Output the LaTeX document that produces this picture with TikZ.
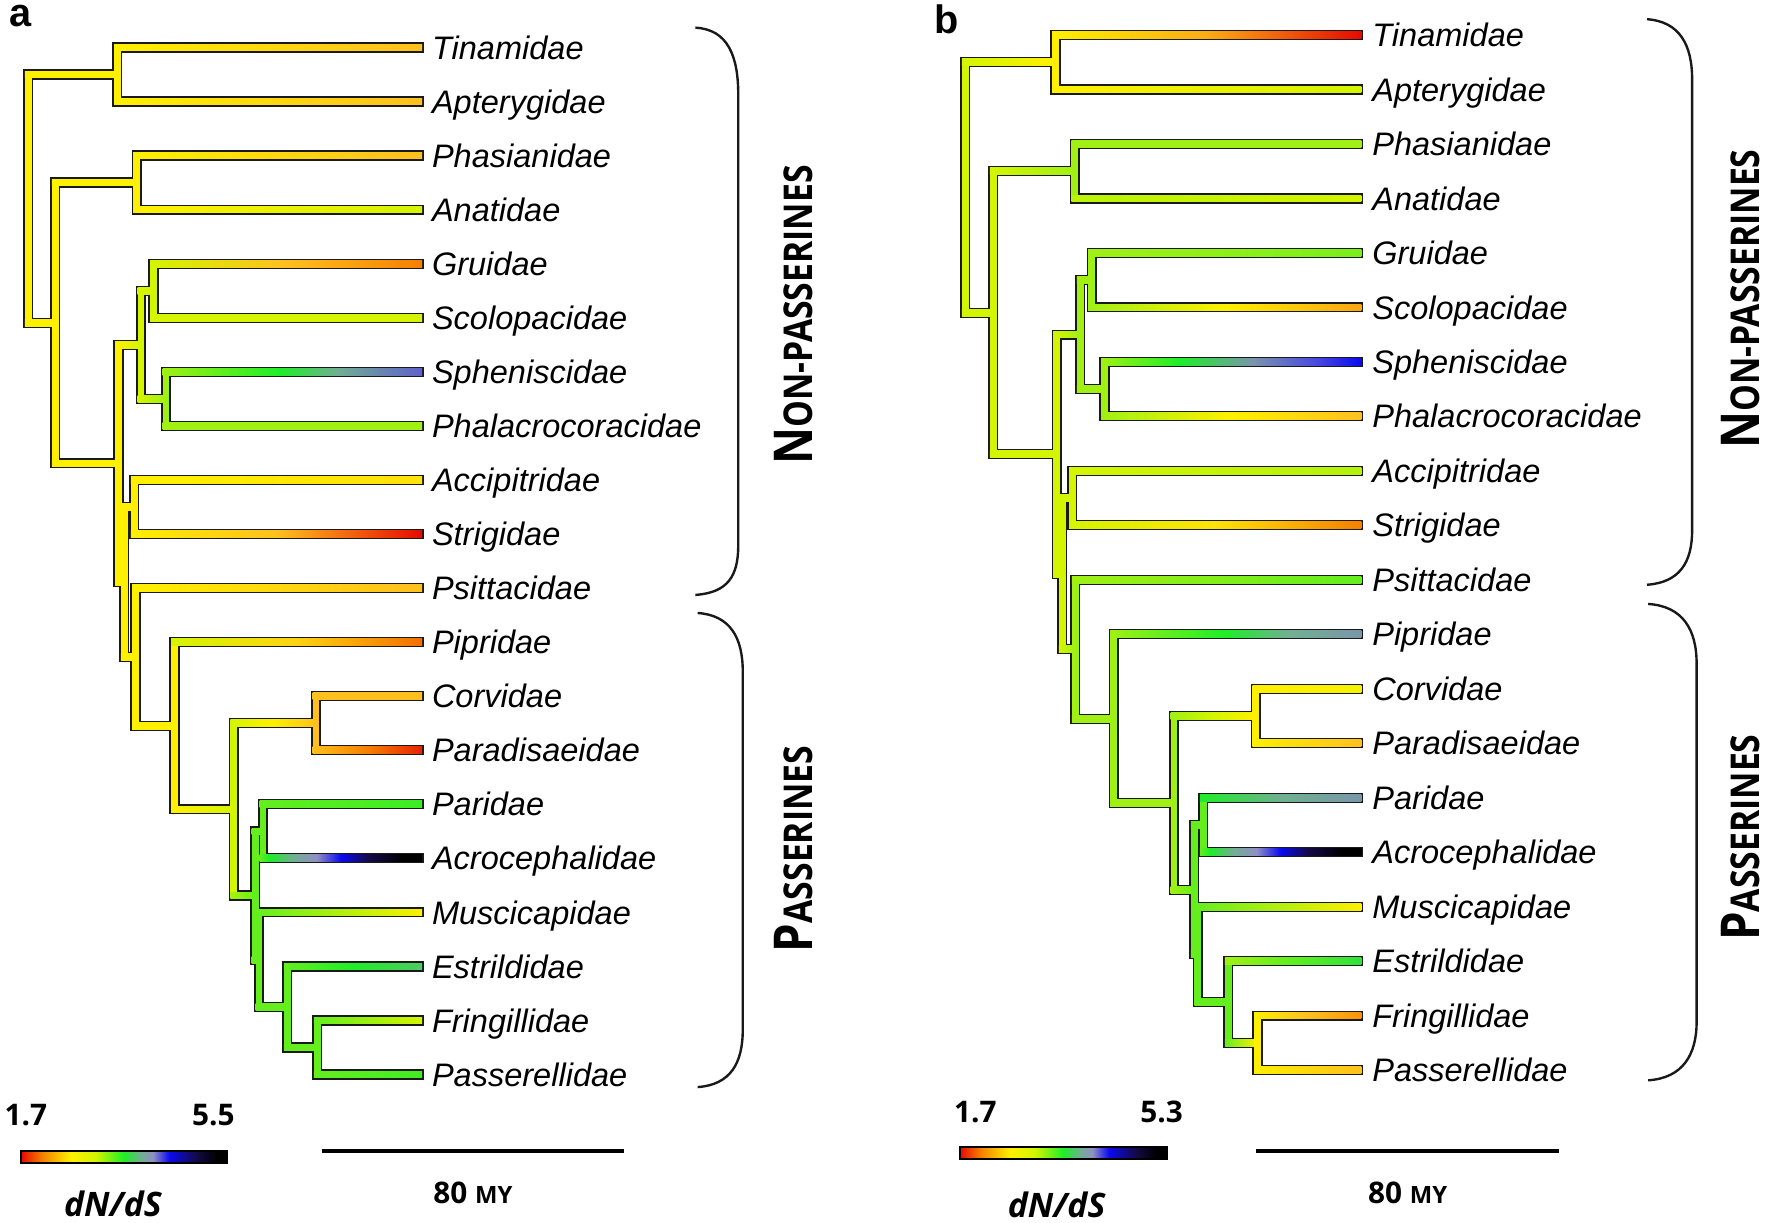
\documentclass[tikz,border=0pt]{standalone}
\usepackage{graphicx}
\usepackage{fontspec}
\setmainfont{Liberation Sans}
\newfontfamily\osans{Open Sans}
\usetikzlibrary{calc}
\definecolor{brdark}{RGB}{25,25,25}
\definecolor{yel}{RGB}{255,240,0}
\definecolor{yor}{RGB}{255,192,30}
\definecolor{org}{RGB}{245,128,0}
\definecolor{dred}{RGB}{230,10,0}
\definecolor{ygr}{RGB}{212,245,0}
\definecolor{lgr}{RGB}{160,240,20}
\definecolor{grn}{RGB}{100,238,30}
\definecolor{bgr}{RGB}{30,238,40}
\definecolor{sea}{RGB}{112,176,144}
\definecolor{lav}{RGB}{144,144,196}
\definecolor{gsl}{RGB}{122,150,170}
\definecolor{gbl}{RGB}{96,96,204}
\definecolor{vio}{RGB}{72,72,224}
\definecolor{blu}{RGB}{10,10,240}
\definecolor{nvy}{RGB}{20,10,70}
\pgfdeclarelayer{brback}
\pgfsetlayers{brback,main}
\pgfdeclarehorizontalshading{dnds}{100bp}{color(0bp)=(dred); color(25bp)=(dred); color(30bp)=(org); color(37bp)=(yel); color(43bp)=(ygr); color(50bp)=(bgr); color(54bp)=(sea); color(57bp)=(lav); color(61bp)=(blu); color(67.5bp)=(nvy); color(72.5bp)=(black); color(100bp)=(black)}
\pgfdeclarehorizontalshading{spha}{100bp}{color(0bp)=(lgr); color(25bp)=(lgr); color(47.5bp)=(bgr); color(58.5bp)=(sea); color(75bp)=(gbl); color(100bp)=(gbl)}
\pgfdeclarehorizontalshading{sphb}{100bp}{color(0bp)=(lgr); color(25bp)=(lgr); color(40bp)=(bgr); color(54bp)=(gsl); color(66.5bp)=(vio); color(75bp)=(blu); color(100bp)=(blu)}
\pgfdeclarehorizontalshading{acro}{100bp}{color(0bp)=(grn); color(25bp)=(grn); color(28bp)=(bgr); color(35bp)=(sea); color(42.5bp)=(lav); color(50bp)=(blu); color(58.5bp)=(nvy); color(69bp)=(black); color(100bp)=(black)}
\pgfdeclarehorizontalshading{pipb}{100bp}{color(0bp)=(lgr); color(25bp)=(lgr); color(48bp)=(bgr); color(60bp)=(sea); color(75bp)=(gsl); color(100bp)=(gsl)}
\tikzset{
  brl/.style ={fill=brdark},
  gr/.style 2 args={left color=#1,right color=#2},
  gm/.style n args={3}{left color=#1,right color=#3,middle color=#2},
  tax/.style ={font=\fontsize{8.2}{10}\selectfont\itshape, anchor=base west, inner sep=0pt},
  grp/.style ={font=\osans\bfseries\fontsize{10}{12}\selectfont, rotate=90, anchor=base, inner sep=0pt},
  num/.style ={font=\osans\bfseries\fontsize{7.5}{9}\selectfont, inner sep=0pt},
  dnl/.style ={font=\osans\bfseries\itshape\fontsize{8.5}{10}\selectfont, inner sep=0pt},
  plab/.style={font=\bfseries\fontsize{10}{12}\selectfont, inner sep=0pt},
  brc/.style ={draw=brdark, line width=0.6pt},
  sbar/.style={draw=black, line width=1pt},
}
\newcommand{\tbranch}[4]{%
  \begin{pgfonlayer}{brback}
    \fill[brl] ($(#1)+(-4.5,0)$) rectangle ($(#1|-#2)+(4.5,0)$);
    \fill[brl] ($(#1|-#2)+(-4.5,-4.5)$) rectangle ($(#2)+(1.5,4.5)$);
  \end{pgfonlayer}
  \fill[#3] ($(#1)+(-3,0)$) rectangle ($(#1|-#2)+(3,0)$);
  \shade[#4] ($(#1|-#2)+(-3,-3)$) rectangle ($(#2)+(0,3)$);
}

\begin{document}
\begin{tikzpicture}[x=0.1mm,y=-0.1mm]
  \useasboundingbox (0,0) rectangle (1568,1083);
  \node[plab] (pla) at (18,14) {a};
  \node[plab] (plb) at (839,17) {b};
  \foreach \nm [count=\i] in {Tinamidae,Apterygidae,Phasianidae,Anatidae,Gruidae,Scolopacidae,Spheniscidae,Phalacrocoracidae,Accipitridae,Strigidae,Psittacidae,Pipridae,Corvidae,Paradisaeidae,Paridae,Acrocephalidae,Muscicapidae,Estrildidae,Fringillidae,Passerellidae}{
    \coordinate (a\i) at (374,{42+47.89*(\i-1)});
    \node[tax] (na\i) at (382,{52.3+47.89*(\i-1)}) {\nm};
    \coordinate (b\i) at (1206,{31+48.26*(\i-1)});
    \node[tax] (nb\i) at (1215,{41.3+48.26*(\i-1)}) {\nm};
  }
  % tree a
  \coordinate (aroot) at (25,176);
  \coordinate (ata) at (104,66);
  \coordinate (an2) at (49,286);
  \coordinate (apa) at (121,161.7);
  \coordinate (al) at (105,410.5);
  \coordinate (aw) at (125,305.4);
  \coordinate (ags) at (136,257.5);
  \coordinate (asp) at (147,353.3);
  \coordinate (al2) at (110,515.5);
  \coordinate (aas) at (119,449);
  \coordinate (al3) at (120,581.9);
  \coordinate (ap) at (154.6,642.9);
  \coordinate (ao) at (207,717);
  \coordinate (acp) at (280,640.6);
  \coordinate (apd1) at (226,793.3);
  \coordinate (app) at (233,736.5);
  \coordinate (apd2) at (229.5,850.1);
  \coordinate (aes) at (254.5,892);
  \coordinate (afp) at (281,928);
  \tbranch{aroot}{ata}{yel}{gr={yel}{yel}}
  \tbranch{ata}{a1}{yel}{gr={yel}{yor}}
  \tbranch{ata}{a2}{yel}{gr={yel}{yor}}
  \tbranch{aroot}{an2}{yel}{gr={yel}{yel}}
  \tbranch{an2}{apa}{yel}{gr={yel}{yel}}
  \tbranch{apa}{a3}{yel}{gr={yel}{yor}}
  \tbranch{apa}{a4}{yel}{gr={yel}{ygr}}
  \tbranch{an2}{al}{yel}{gr={yel}{yel}}
  \tbranch{al}{aw}{yel}{gr={yel}{ygr}}
  \tbranch{aw}{ags}{ygr}{gr={ygr}{ygr}}
  \tbranch{ags}{a5}{ygr}{gm={ygr}{yor}{org}}
  \tbranch{ags}{a6}{ygr}{gr={ygr}{ygr}}
  \tbranch{aw}{asp}{ygr}{gr={ygr}{lgr}}
  \tbranch{asp}{a7}{lgr}{shading=spha}
  \tbranch{asp}{a8}{lgr}{gr={lgr}{lgr}}
  \tbranch{al}{al2}{yel}{gr={yel}{yel}}
  \tbranch{al2}{aas}{yel}{gr={yel}{yel}}
  \tbranch{aas}{a9}{yel}{gr={yel}{yel!70!yor}}
  \tbranch{aas}{a10}{yel}{gm={yel}{yor}{dred}}
  \tbranch{al2}{al3}{yel}{gr={yel}{yel}}
  \tbranch{al3}{a11}{yel}{gr={yel}{yor}}
  \tbranch{al3}{ap}{yel}{gr={yel}{yel}}
  \tbranch{ap}{a12}{yel}{gm={ygr}{yel!40!yor}{org!85!dred}}
  \tbranch{ap}{ao}{yel}{gr={yel}{ygr}}
  \tbranch{ao}{acp}{ygr}{gm={ygr}{yel}{yor}}
  \tbranch{acp}{a13}{yor}{gr={yor}{yor}}
  \tbranch{acp}{a14}{yor}{gm={yor}{org}{dred!80!org}}
  \tbranch{ao}{apd1}{ygr}{gr={ygr!60!grn}{grn}}
  \tbranch{apd1}{app}{grn}{gr={grn}{grn}}
  \tbranch{app}{a15}{grn}{gr={grn}{bgr!60!grn}}
  \tbranch{app}{a16}{grn}{shading=acro}
  \tbranch{apd1}{apd2}{grn}{gr={grn}{grn}}
  \tbranch{apd2}{a17}{grn}{gr={grn}{yel!90!ygr}}
  \tbranch{apd2}{aes}{grn}{gr={grn}{grn}}
  \tbranch{aes}{a18}{grn}{gm={grn}{bgr}{sea!60!bgr}}
  \tbranch{aes}{afp}{grn}{gr={grn}{grn}}
  \tbranch{afp}{a19}{grn}{gr={grn}{ygr}}
  \tbranch{afp}{a20}{grn}{gr={grn}{bgr!50!grn}}
  % tree b
  \coordinate (broot) at (855,166);
  \coordinate (bta) at (935,55.2);
  \coordinate (bn2) at (880,277);
  \coordinate (bpa) at (952,151.7);
  \coordinate (bl) at (936,402.3);
  \coordinate (bw) at (957,296.4);
  \coordinate (bgs) at (967,248.2);
  \coordinate (bsp) at (978.5,344.7);
  \coordinate (bl2) at (941,508.2);
  \coordinate (bas) at (950,441.2);
  \coordinate (bl3) at (952.5,575.1);
  \coordinate (bp) at (986.5,636.6);
  \coordinate (bo) at (1040,711.2);
  \coordinate (bcp) at (1112.5,634.3);
  \coordinate (bpd1) at (1058,788.1);
  \coordinate (bpp) at (1066,730.8);
  \coordinate (bpd2) at (1061,845.4);
  \coordinate (bes) at (1088,887.6);
  \coordinate (bfp) at (1114,923.8);
  \tbranch{broot}{bta}{ygr}{gr={ygr}{yel}}
  \tbranch{bta}{b1}{yel}{gm={yel}{yor!70!org}{dred}}
  \tbranch{bta}{b2}{yel}{gr={yel}{ygr}}
  \tbranch{broot}{bn2}{ygr}{gr={ygr}{ygr}}
  \tbranch{bn2}{bpa}{ygr}{gr={ygr}{lgr}}
  \tbranch{bpa}{b3}{lgr}{gr={lgr}{lgr}}
  \tbranch{bpa}{b4}{lgr}{gr={lgr!50!ygr}{ygr}}
  \tbranch{bn2}{bl}{ygr}{gr={ygr}{ygr}}
  \tbranch{bl}{bw}{ygr}{gr={ygr}{lgr}}
  \tbranch{bw}{bgs}{lgr}{gr={lgr}{lgr}}
  \tbranch{bgs}{b5}{lgr}{gr={lgr}{lgr!70!bgr}}
  \tbranch{bgs}{b6}{lgr}{gm={lgr}{yel}{yor!60!org}}
  \tbranch{bw}{bsp}{lgr}{gr={lgr}{lgr}}
  \tbranch{bsp}{b7}{lgr}{shading=sphb}
  \tbranch{bsp}{b8}{lgr}{gm={lgr}{yel}{yor}}
  \tbranch{bl}{bl2}{ygr}{gr={ygr}{ygr}}
  \tbranch{bl2}{bas}{ygr}{gr={ygr}{ygr}}
  \tbranch{bas}{b9}{ygr}{gr={ygr}{lgr!60!ygr}}
  \tbranch{bas}{b10}{ygr}{gm={ygr}{yel!70!yor}{org}}
  \tbranch{bl2}{bl3}{ygr}{gr={ygr}{lgr}}
  \tbranch{bl3}{b11}{lgr}{gr={lgr}{grn}}
  \tbranch{bl3}{bp}{lgr}{gr={lgr}{lgr}}
  \tbranch{bp}{b12}{lgr}{shading=pipb}
  \tbranch{bp}{bo}{lgr}{gr={lgr}{lgr}}
  \tbranch{bo}{bcp}{lgr}{gm={lgr}{ygr}{yel}}
  \tbranch{bcp}{b13}{yel}{gr={yel}{yel!80!ygr}}
  \tbranch{bcp}{b14}{yel}{gr={yel}{yor}}
  \tbranch{bo}{bpd1}{lgr}{gr={lgr}{grn}}
  \tbranch{bpd1}{bpp}{grn}{gr={grn}{grn}}
  \tbranch{bpp}{b15}{grn}{gm={bgr}{sea}{gsl}}
  \tbranch{bpp}{b16}{grn}{shading=acro}
  \tbranch{bpd1}{bpd2}{grn}{gr={grn}{grn}}
  \tbranch{bpd2}{b17}{grn}{gr={grn}{yel}}
  \tbranch{bpd2}{bes}{grn}{gr={grn}{grn}}
  \tbranch{bes}{b18}{grn}{gm={lgr}{lgr!50!bgr}{bgr!80!sea}}
  \tbranch{bes}{bfp}{grn}{gr={grn}{yel}}
  \tbranch{bfp}{b19}{yel}{gm={yel}{yor}{org!70!yor}}
  \tbranch{bfp}{b20}{yel}{gr={yel}{yor}}
  % groups
  \draw[brc] (616,24.5) .. controls (645,26) and (654,50) .. (654,84) -- (654,483) .. controls (654,510) and (645,525) .. (616,527);
  \draw[brc] (618,543) .. controls (647,545) and (658,565) .. (658,595) -- (658,912) .. controls (658,942) and (647,961) .. (618,963);
  \draw[brc] (1459,17) .. controls (1488,19) and (1499,40) .. (1499,70) -- (1499,470) .. controls (1499,498) and (1488,516) .. (1459,518);
  \draw[brc] (1460,535) .. controls (1491,537) and (1503,558) .. (1503,588) -- (1503,905) .. controls (1503,934) and (1491,955) .. (1460,957);
  \node[grp] (gna) at (720,279) {\scalebox{0.85}[1]{{\fontsize{13.5}{14}\selectfont N}ON-PASSERINES}};
  \node[grp] (gpa) at (720,752) {\scalebox{0.85}[1]{{\fontsize{13.5}{14}\selectfont P}ASSERINES}};
  \node[grp] (gnb) at (1559,265) {\scalebox{0.85}[1]{{\fontsize{13.5}{14}\selectfont N}ON-PASSERINES}};
  \node[grp] (gpb) at (1559,742) {\scalebox{0.85}[1]{{\fontsize{13.5}{14}\selectfont P}ASSERINES}};
  % legends
  \shade[shading=dnds] (19,1020) rectangle (201,1030.6);
  \draw[draw=black,line width=0.5pt] (19,1020) rectangle (201,1030.6);
  \node[num] (lo1) at (23,988) {1.7};
  \node[num] (hi1) at (189,988) {5.5};
  \node[dnl] (dn1) at (100,1066) {dN/dS};
  \draw[sbar] (285,1020) -- (553,1020);
  \node[num] (my1) at (419,1057) {80 {\fontsize{6}{7}\selectfont MY}};
  \shade[shading=dnds] (850.6,1016) rectangle (1033.6,1026.5);
  \draw[draw=black,line width=0.5pt] (850.6,1016) rectangle (1033.6,1026.5);
  \node[num] (lo2) at (864,985) {1.7};
  \node[num] (hi2) at (1029,985) {5.3};
  \node[dnl] (dn2) at (936,1067) {dN/dS};
  \draw[sbar] (1113,1020) -- (1381,1020);
  \node[num] (my2) at (1247,1057) {80 {\fontsize{6}{7}\selectfont MY}};
\end{tikzpicture}
\end{document}
